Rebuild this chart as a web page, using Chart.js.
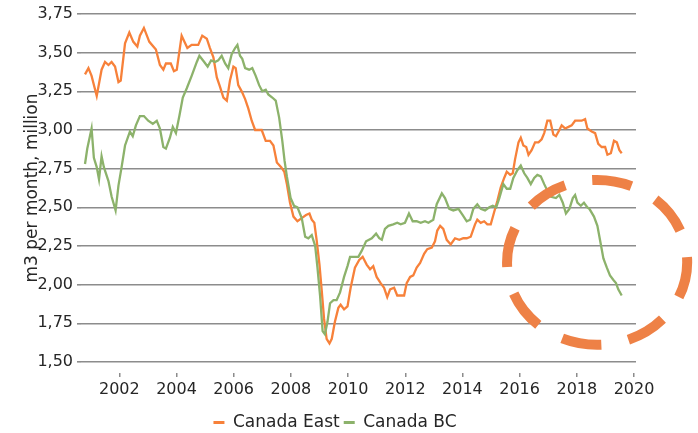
<!DOCTYPE html>
<html>
<head>
<meta charset="utf-8">
<script src="https://cdn.jsdelivr.net/npm/chart.js@4.4.1/dist/chart.umd.min.js"></script>
<style>
  html, body { margin: 0; padding: 0; background: #fff; }
</style>
</head>
<body>
<canvas id="gas-chart" width="698" height="433"></canvas>
<script>
// values (year as decimal, million m3 per month)
var eastYears = [2000.80, 2000.92, 2001.03, 2001.21, 2001.38, 2001.50, 2001.62, 2001.73, 2001.85, 2001.97,
  2002.05, 2002.20, 2002.35, 2002.49, 2002.63, 2002.72, 2002.86, 2003.05, 2003.28, 2003.42,
  2003.54, 2003.63, 2003.80, 2003.91, 2004.01, 2004.18, 2004.38, 2004.53, 2004.76, 2004.90,
  2005.06, 2005.17, 2005.29, 2005.41, 2005.52, 2005.64, 2005.76, 2005.87, 2005.99, 2006.07,
  2006.16, 2006.28, 2006.40, 2006.51, 2006.63, 2006.75, 2006.98, 2007.12, 2007.27, 2007.39,
  2007.51, 2007.66, 2007.77, 2007.86, 2007.97, 2008.09, 2008.23, 2008.38, 2008.53, 2008.65,
  2008.73, 2008.82, 2008.90, 2009.00, 2009.08, 2009.16, 2009.25, 2009.35, 2009.43, 2009.54,
  2009.66, 2009.74, 2009.86, 2009.98, 2010.09, 2010.24, 2010.39, 2010.51, 2010.65, 2010.77,
  2010.88, 2011.00, 2011.14, 2011.26, 2011.37, 2011.47, 2011.61, 2011.72, 2011.84, 2011.96,
  2012.05, 2012.17, 2012.28, 2012.40, 2012.52, 2012.66, 2012.77, 2012.93, 2013.04, 2013.12,
  2013.22, 2013.33, 2013.45, 2013.59, 2013.74, 2013.89, 2014.03, 2014.15, 2014.29, 2014.44,
  2014.52, 2014.64, 2014.76, 2014.87, 2014.99, 2015.11, 2015.22, 2015.34, 2015.46, 2015.55,
  2015.67, 2015.76, 2015.84, 2015.96, 2016.04, 2016.13, 2016.23, 2016.31, 2016.42, 2016.54,
  2016.66, 2016.77, 2016.86, 2016.97, 2017.07, 2017.18, 2017.27, 2017.39, 2017.47, 2017.59,
  2017.71, 2017.82, 2017.94, 2018.06, 2018.17, 2018.29, 2018.37, 2018.52, 2018.64, 2018.75,
  2018.87, 2018.99, 2019.07, 2019.19, 2019.30, 2019.40, 2019.49, 2019.57];
var eastValues = [3.36, 3.40, 3.35, 3.22, 3.39, 3.44, 3.42, 3.44, 3.41, 3.31,
  3.32, 3.56, 3.63, 3.57, 3.54, 3.61, 3.66, 3.57, 3.52, 3.42,
  3.39, 3.43, 3.43, 3.38, 3.39, 3.61, 3.53, 3.55, 3.55, 3.61,
  3.59, 3.53, 3.47, 3.34, 3.28, 3.21, 3.19, 3.32, 3.41, 3.40,
  3.29, 3.25, 3.20, 3.14, 3.06, 3.00, 3.00, 2.93, 2.93, 2.90,
  2.79, 2.76, 2.73, 2.65, 2.53, 2.44, 2.41, 2.43, 2.45, 2.46,
  2.42, 2.40, 2.29, 2.13, 1.96, 1.78, 1.65, 1.62, 1.65, 1.76,
  1.85, 1.87, 1.84, 1.86, 1.98, 2.11, 2.16, 2.18, 2.13, 2.10,
  2.12, 2.05, 2.01, 1.98, 1.92, 1.97, 1.98, 1.93, 1.93, 1.93,
  2.01, 2.05, 2.06, 2.11, 2.14, 2.20, 2.23, 2.24, 2.28, 2.35,
  2.38, 2.36, 2.29, 2.26, 2.30, 2.29, 2.30, 2.30, 2.31, 2.39,
  2.42, 2.40, 2.41, 2.39, 2.39, 2.47, 2.54, 2.63, 2.69, 2.73,
  2.71, 2.72, 2.81, 2.92, 2.95, 2.90, 2.89, 2.84, 2.87, 2.92,
  2.92, 2.94, 2.98, 3.06, 3.06, 2.97, 2.96, 3.00, 3.03, 3.01,
  3.02, 3.03, 3.06, 3.06, 3.06, 3.07, 3.01, 2.99, 2.98, 2.91,
  2.89, 2.89, 2.84, 2.85, 2.93, 2.92, 2.87, 2.85];

var bcYears = [2000.80, 2000.88, 2001.03, 2001.11, 2001.21, 2001.29, 2001.38, 2001.46, 2001.62, 2001.73,
  2001.87, 2001.97, 2002.08, 2002.20, 2002.37, 2002.47, 2002.58, 2002.72, 2002.86, 2003.01,
  2003.17, 2003.31, 2003.42, 2003.54, 2003.63, 2003.77, 2003.87, 2003.98, 2004.10, 2004.22,
  2004.36, 2004.53, 2004.71, 2004.80, 2004.97, 2005.09, 2005.21, 2005.35, 2005.46, 2005.58,
  2005.70, 2005.81, 2005.93, 2006.05, 2006.13, 2006.22, 2006.30, 2006.40, 2006.54, 2006.65,
  2006.77, 2006.89, 2007.00, 2007.12, 2007.21, 2007.35, 2007.47, 2007.59, 2007.70, 2007.78,
  2007.86, 2007.99, 2008.11, 2008.23, 2008.38, 2008.50, 2008.61, 2008.73, 2008.85, 2008.93,
  2009.02, 2009.11, 2009.19, 2009.28, 2009.37, 2009.49, 2009.60, 2009.72, 2009.86, 2009.98,
  2010.07, 2010.21, 2010.36, 2010.48, 2010.63, 2010.83, 2010.98, 2011.09, 2011.18, 2011.29,
  2011.41, 2011.58, 2011.72, 2011.84, 2011.99, 2012.13, 2012.26, 2012.40, 2012.54, 2012.69,
  2012.81, 2012.98, 2013.10, 2013.28, 2013.39, 2013.54, 2013.68, 2013.86, 2014.01, 2014.15,
  2014.27, 2014.38, 2014.52, 2014.64, 2014.79, 2014.94, 2015.06, 2015.18, 2015.29, 2015.43,
  2015.55, 2015.67, 2015.78, 2015.92, 2016.04, 2016.16, 2016.27, 2016.39, 2016.51, 2016.62,
  2016.74, 2016.86, 2017.07, 2017.27, 2017.39, 2017.51, 2017.62, 2017.74, 2017.86, 2017.94,
  2018.02, 2018.14, 2018.25, 2018.37, 2018.44, 2018.60, 2018.72, 2018.81, 2018.93, 2019.05,
  2019.16, 2019.28, 2019.37, 2019.45, 2019.57];
var bcValues = [2.78, 2.88, 3.01, 2.82, 2.76, 2.68, 2.83, 2.76, 2.67, 2.57,
  2.48, 2.64, 2.76, 2.90, 2.99, 2.96, 3.03, 3.09, 3.09, 3.06,
  3.04, 3.06, 3.01, 2.89, 2.88, 2.95, 3.02, 2.98, 3.09, 3.21,
  3.27, 3.35, 3.44, 3.48, 3.44, 3.41, 3.45, 3.44, 3.45, 3.48,
  3.43, 3.40, 3.49, 3.53, 3.55, 3.48, 3.46, 3.40, 3.39, 3.40,
  3.35, 3.29, 3.25, 3.26, 3.23, 3.21, 3.19, 3.08, 2.93, 2.80,
  2.70, 2.56, 2.51, 2.50, 2.43, 2.31, 2.30, 2.32, 2.25, 2.11,
  1.93, 1.70, 1.68, 1.76, 1.88, 1.90, 1.90, 1.95, 2.05, 2.12,
  2.18, 2.18, 2.18, 2.22, 2.28, 2.30, 2.33, 2.30, 2.29, 2.36,
  2.38, 2.39, 2.40, 2.39, 2.40, 2.46, 2.41, 2.41, 2.40, 2.41,
  2.40, 2.42, 2.52, 2.59, 2.56, 2.49, 2.48, 2.49, 2.45, 2.41,
  2.42, 2.49, 2.52, 2.49, 2.48, 2.50, 2.51, 2.50, 2.56, 2.65,
  2.62, 2.62, 2.69, 2.74, 2.77, 2.72, 2.69, 2.65, 2.69, 2.71,
  2.70, 2.65, 2.57, 2.56, 2.58, 2.53, 2.46, 2.49, 2.56, 2.58,
  2.53, 2.51, 2.53, 2.50, 2.49, 2.44, 2.38, 2.29, 2.17, 2.11,
  2.06, 2.03, 2.01, 1.97, 1.93];

var yearTicks = [2002, 2004, 2006, 2008, 2010, 2012, 2014, 2016, 2018, 2020];

// dashed ring drawn over the last years: centre (year, value) and radii
var ringCenter = [2018.71, 2.144];
var ringRadius = [3.15, 0.533];

var orange = '#F7813A';
var green = '#8CB26B';
var ringColor = '#EE8146';
var textColor = '#262626';
var gridColor = '#8c8c8c';
var fontName = "'DejaVu Sans', sans-serif";

function toPoints(xs, ys) {
  return xs.map(function (x, i) { return { x: x, y: ys[i] }; });
}

var ringPlugin = {
  id: 'ring',
  afterDatasetsDraw: function (chart) {
    var ctx = chart.ctx;
    var x = chart.scales.x, y = chart.scales.y;
    var cx = x.getPixelForValue(ringCenter[0]);
    var cy = y.getPixelForValue(ringCenter[1]);
    var rx = x.getPixelForValue(ringCenter[0] + ringRadius[0]) - cx;
    var ry = cy - y.getPixelForValue(ringCenter[1] + ringRadius[1]);
    ctx.save();
    ctx.strokeStyle = ringColor;
    ctx.lineWidth = 10;
    ctx.setLineDash([40, 27.5]);
    ctx.lineDashOffset = 4;
    ctx.beginPath();
    ctx.ellipse(cx, cy, rx, ry, 0, 0, Math.PI * 2);
    ctx.stroke();
    ctx.restore();
  }
};

var ctx = document.getElementById('gas-chart').getContext('2d');

var mychart = new Chart(ctx, {
  type: 'line',
  data: {
    datasets: [{
      label: 'Canada East',
      data: toPoints(eastYears, eastValues),
      borderColor: orange,
      backgroundColor: orange,
      borderWidth: 2.3,
      pointRadius: 0,
      tension: 0,
      order: 2
    }, {
      label: 'Canada BC',
      data: toPoints(bcYears, bcValues),
      borderColor: green,
      backgroundColor: green,
      borderWidth: 2.3,
      pointRadius: 0,
      tension: 0,
      order: 1
    }]
  },
  options: {
    responsive: false,
    animation: false,
    layout: { padding: { left: 34, right: 62, top: 14, bottom: -8 } },
    plugins: {
      tooltip: { enabled: false },
      legend: {
        position: 'bottom',
        labels: {
          boxWidth: 11,
          boxHeight: 3,
          padding: 4,
          color: textColor,
          font: { family: fontName, size: 17 },
          sort: function (a, b) { return a.datasetIndex - b.datasetIndex; },
          generateLabels: function (chart) {
            return Chart.defaults.plugins.legend.labels.generateLabels(chart).map(function (l) {
              l.lineWidth = 0;
              return l;
            });
          }
        }
      }
    },
    scales: {
      x: {
        type: 'linear',
        min: 2000.66,
        max: 2020.07,
        afterBuildTicks: function (scale) {
          scale.ticks = yearTicks.map(function (v) { return { value: v }; });
        },
        afterFit: function (scale) { scale.height = 48; },
        border: { display: false },
        grid: {
          drawOnChartArea: false,
          drawTicks: true,
          tickLength: 15,
          color: gridColor,
          lineWidth: 1.5,
          tickBorderDash: [0, 11, 4, 60]
        },
        ticks: {
          padding: 3,
          maxRotation: 0,
          color: textColor,
          font: { family: fontName, size: 16 },
          callback: function (v) { return String(v); }
        }
      },
      y: {
        min: 1.5,
        max: 3.75,
        afterFit: function (scale) { scale.width = 47; },
        border: { display: false },
        grid: { color: gridColor, lineWidth: 1.6, tickLength: 4 },
        ticks: {
          stepSize: 0.25,
          padding: 4,
          color: textColor,
          font: { family: fontName, size: 16 },
          callback: function (v) { return v.toFixed(2).replace('.', ','); }
        },
        title: {
          display: true,
          text: 'm3 per month, million',
          color: textColor,
          font: { family: fontName, size: 17 },
          padding: { top: -12, bottom: 0 }
        }
      }
    }
  },
  plugins: [ringPlugin]
});
</script>
</body>
</html>
